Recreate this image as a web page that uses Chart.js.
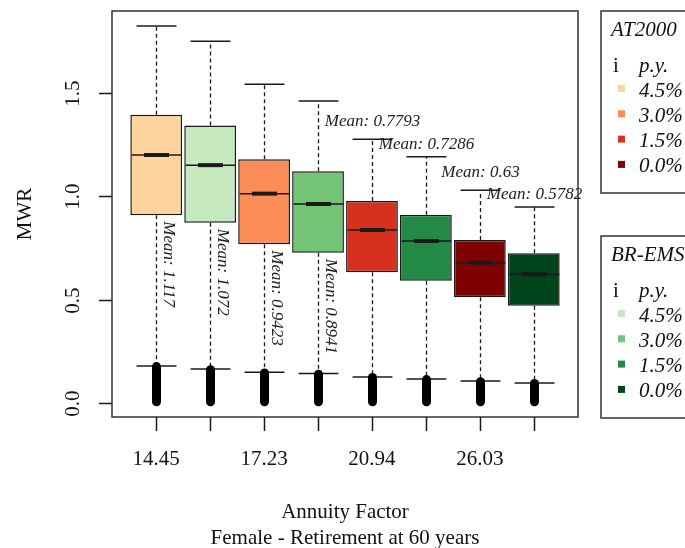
<!DOCTYPE html>
<html lang="en">
<head>
<meta charset="UTF-8">
<title>MWR by annuity factor</title>
<script src="https://cdn.jsdelivr.net/npm/chart.js"></script>
<style>
  html, body { margin: 0; padding: 0; background: #fff; }
  #wrap { width: 685px; height: 548px; }
</style>
</head>
<body>
<div id="wrap"><canvas id="mwrChart" width="685" height="548"></canvas></div>
<script>
// box positions, alternating AT2000 / BR-EMS at each interest rate
const positions = [1, 2, 3, 4, 5, 6, 7, 8];
const upperWhisker = [1.824, 1.751, 1.542, 1.461, 1.276, 1.192, 1.030, 0.948];
const q3 = [1.395, 1.343, 1.180, 1.121, 0.977, 0.911, 0.789, 0.724];
const medians = [1.200, 1.151, 1.013, 0.963, 0.837, 0.784, 0.679, 0.623];
const q1 = [0.908, 0.872, 0.768, 0.727, 0.632, 0.592, 0.511, 0.471];
const lowerWhisker = [0.179, 0.164, 0.148, 0.142, 0.126, 0.116, 0.106, 0.097];
const outlierHigh = [0.176, 0.161, 0.145, 0.139, 0.123, 0.113, 0.103, 0.094];
const outlierLow = [0.006, 0.006, 0.006, 0.006, 0.006, 0.006, 0.006, 0.006];
const means = [1.117, 1.072, 0.9423, 0.8941, 0.7793, 0.7286, 0.63, 0.5782];

const xTickPositions = [1, 3, 5, 7];
const xTickLabels = ['14.45', '17.23', '20.94', '26.03'];
const yTicks = [0, 0.5, 1.0, 1.5];

const rateLabels = ['4.5%', '3.0%', '1.5%', '0.0%'];
const at2000Colors = ['#FDD49E', '#FC8D59', '#D7301F', '#7F0000'];
const bremsColors = ['#C7E9C0', '#74C476', '#238B45', '#00441B'];
const boxColors = [];
rateLabels.forEach((r, i) => { boxColors.push(at2000Colors[i], bremsColors[i]); });

const SERIF = '"Liberation Serif", "DejaVu Serif", serif';
const INK = '#1a1a1a';

function hline(ctx, x1, x2, yy) { ctx.beginPath(); ctx.moveTo(x1, yy); ctx.lineTo(x2, yy); ctx.stroke(); }
function vline(ctx, xx, y1, y2) { ctx.beginPath(); ctx.moveTo(xx, y1); ctx.lineTo(xx, y2); ctx.stroke(); }

// whiskers, medians, outliers and the mean annotations
const boxExtras = {
    id: 'boxExtras',
    afterDatasetsDraw(chart) {
        const { ctx, scales: { x, y } } = chart;
        const bars = chart.getDatasetMeta(0).data;
        ctx.save();
        positions.forEach((p, i) => {
            const cx = Math.round(x.getPixelForValue(p)) + 0.5;
            const half = bars[i].width / 2;
            const capHalf = half * 0.77;
            ctx.strokeStyle = INK;
            ctx.lineWidth = 1.3;
            ctx.setLineDash([4, 3]);
            vline(ctx, cx, y.getPixelForValue(q3[i]), y.getPixelForValue(upperWhisker[i]));
            vline(ctx, cx, y.getPixelForValue(q1[i]), y.getPixelForValue(lowerWhisker[i]));
            ctx.setLineDash([]);
            ctx.lineWidth = 1.5;
            hline(ctx, cx - capHalf, cx + capHalf, y.getPixelForValue(upperWhisker[i]));
            hline(ctx, cx - capHalf, cx + capHalf, y.getPixelForValue(lowerWhisker[i]));

            // median: thin line across, heavy bar in the middle
            const my = y.getPixelForValue(medians[i]);
            ctx.lineWidth = 1.5;
            hline(ctx, cx - half + 1, cx + half - 1, my);
            ctx.lineWidth = 4;
            hline(ctx, cx - 12.5, cx + 12.5, my);

            // outliers pile up into a solid stroke
            ctx.lineWidth = 9;
            ctx.lineCap = 'round';
            ctx.strokeStyle = '#000';
            vline(ctx, cx, y.getPixelForValue(outlierHigh[i]), y.getPixelForValue(outlierLow[i]));
            ctx.lineCap = 'butt';

            // mean labels
            ctx.fillStyle = '#222';
            ctx.font = 'italic 17px ' + SERIF;
            const txt = 'Mean: ' + means[i];
            if (i < 4) {
                ctx.save();
                ctx.translate(cx + 11.5, y.getPixelForValue(q1[i]) + 6);
                ctx.rotate(Math.PI / 2);
                ctx.textAlign = 'left';
                ctx.textBaseline = 'middle';
                ctx.fillText(txt, 0, 0);
                ctx.restore();
            } else {
                ctx.textAlign = 'center';
                ctx.textBaseline = 'alphabetic';
                const gap = i % 2 ? 8 : 13;
                ctx.fillText(txt, cx, y.getPixelForValue(upperWhisker[i]) - gap);
            }
        });
        ctx.restore();
    },
    afterDraw(chart) {
        const { ctx, chartArea: a, scales: { x, y } } = chart;
        ctx.save();
        ctx.strokeStyle = '#333';
        ctx.lineWidth = 1.5;
        ctx.strokeRect(a.left, a.top, a.right - a.left, a.bottom - a.top);

        // axes
        ctx.strokeStyle = INK;
        ctx.fillStyle = '#111';
        ctx.font = '21px ' + SERIF;
        positions.forEach(p => {
            const px = Math.round(x.getPixelForValue(p)) + 0.5;
            vline(ctx, px, a.bottom, a.bottom + 14);
        });
        ctx.textAlign = 'center';
        ctx.textBaseline = 'middle';
        xTickPositions.forEach((p, i) => {
            ctx.fillText(xTickLabels[i], x.getPixelForValue(p), 459);
        });
        yTicks.forEach(v => {
            const py = Math.round(y.getPixelForValue(v)) + 0.5;
            hline(ctx, a.left - 13, a.left, py);
            ctx.save();
            ctx.translate(73, py);
            ctx.rotate(-Math.PI / 2);
            ctx.fillText(v.toFixed(1), 0, 0);
            ctx.restore();
        });

        // axis titles
        const midX = (a.left + a.right) / 2;
        ctx.fillText('Annuity Factor', midX, 512);
        ctx.fillText('Female - Retirement at 60 years', midX, 538);
        ctx.save();
        ctx.translate(25, (a.top + a.bottom) / 2);
        ctx.rotate(-Math.PI / 2);
        ctx.fillText('MWR', 0, 0);
        ctx.restore();

        // the two legends at the right
        drawLegend(ctx, 0, 'AT2000', at2000Colors);
        drawLegend(ctx, 225, 'BR-EMS', bremsColors);
        ctx.restore();
    }
};

function drawLegend(ctx, dy, title, colors) {
    ctx.save();
    ctx.strokeStyle = '#333';
    ctx.lineWidth = 1.5;
    ctx.strokeRect(601, 11 + dy, 120, 182);
    ctx.fillStyle = '#111';
    ctx.textAlign = 'left';
    ctx.textBaseline = 'alphabetic';
    ctx.font = 'italic 21px ' + SERIF;
    ctx.fillText(title, 611, 36 + dy);
    ctx.font = '21px ' + SERIF;
    ctx.fillText('i', 613, 72 + dy);
    ctx.font = 'italic 21px ' + SERIF;
    ctx.fillText('p.y.', 639, 72 + dy);
    rateLabels.forEach((r, i) => {
        const cy = 88.5 + i * 25.3 + dy;
        ctx.fillStyle = colors[i];
        ctx.fillRect(618, cy - 3.5, 7, 7);
        ctx.fillStyle = '#111';
        ctx.fillText(r, 639, cy + 8);
    });
    ctx.restore();
}

const ctx = document.getElementById('mwrChart').getContext('2d');
new Chart(ctx, {
    type: 'bar',
    data: {
        datasets: [{
            data: positions.map((p, i) => ({ x: p, y: [q1[i], q3[i]] })),
            backgroundColor: boxColors,
            borderColor: INK,
            borderWidth: 1.5,
            borderSkipped: false,
            barPercentage: 0.96,
            categoryPercentage: 1
        }]
    },
    options: {
        responsive: false,
        animation: false,
        layout: { padding: { left: 112, top: 11, right: 107, bottom: 131 } },
        plugins: { legend: { display: false }, tooltip: { enabled: false } },
        scales: {
            x: {
                type: 'linear', min: 0.18, max: 8.82, offset: false, display: false,
                // ticks only at the box positions so bar width follows the box spacing
                afterBuildTicks: scale => { scale.ticks = positions.map(v => ({ value: v })); }
            },
            y: { min: -0.068, max: 1.897, display: false }
        }
    },
    plugins: [boxExtras]
});
</script>
</body>
</html>
